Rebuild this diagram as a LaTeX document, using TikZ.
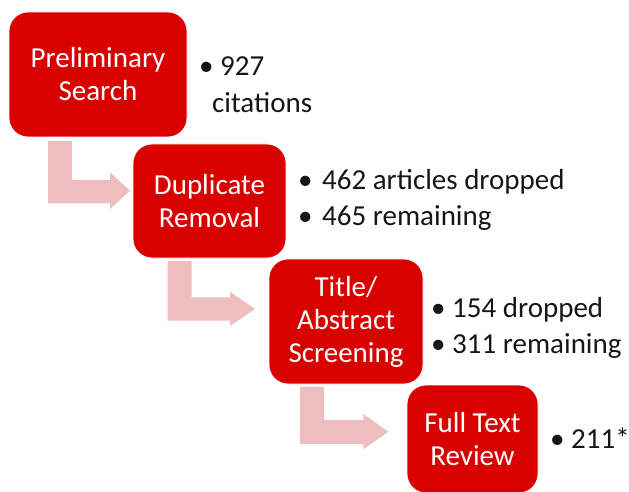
\documentclass[tikz,border=0pt]{standalone}
\usepackage{fontspec}
\setmainfont{Carlito}
\definecolor{boxred}{RGB}{217,0,0}
\definecolor{arrowpink}{RGB}{238,190,190}
\definecolor{txt}{RGB}{22,22,22}
\begin{document}
\begin{tikzpicture}[x=1pt,y=-1pt,
  stage/.style={fill=boxred,draw=white,line width=0.8pt,rounded corners=19pt,
    text=white,align=center,font=\fontsize{29}{33}\selectfont,inner sep=0pt},
  bul/.style={text=txt,anchor=base west,font=\fontsize{29}{36}\selectfont,inner sep=0pt},
  bendarrow/.style={fill=arrowpink,draw=none}]
\useasboundingbox (0,0) rectangle (629,492);
% bent arrows
\fill[bendarrow] (48,141) -- (72,141) -- (72,180) -- (110,180) -- (110,172.3) -- (130,190.7)
  -- (110,209) -- (110,203.3) -- (48,203.3) -- cycle;
\fill[bendarrow] (167.7,261) -- (191.7,261) -- (191.7,297.3) -- (230,297.3) -- (230,291.7) -- (255,309)
  -- (230,326) -- (230,320.7) -- (167.7,320.7) -- cycle;
\fill[bendarrow] (300,386.7) -- (324,386.7) -- (324,420) -- (363.3,420) -- (363.3,414) -- (388.3,431.7)
  -- (363.3,449.3) -- (363.3,444) -- (300,444) -- cycle;
% stages
\node[stage,minimum width=178pt,minimum height=125pt] (prelim) at (98,74.5) {Preliminary\\Search};
\node[stage,minimum width=153pt,minimum height=114pt] (dup) at (209.5,201) {Duplicate\\Removal};
\node[stage,minimum width=154pt,minimum height=125pt] (title) at (346,321.5) {Title/\\Abstract\\Screening};
\node[stage,minimum width=131pt,minimum height=108pt] (full) at (472.5,439) {Full Text\\Review};
% bullets
\node[bul] (b1a) at (199,76) {\makebox[21pt][l]{•}927};
\node[bul] (b1b) at (212,113) {citations};
\node[bul] (b2a) at (298,189) {\makebox[24pt][l]{•}462 articles dropped};
\node[bul] (b2b) at (298,225) {\makebox[24pt][l]{•}465 remaining};
\node[bul] (b3a) at (431,317) {\makebox[21pt][l]{•}154 dropped};
\node[bul] (b3b) at (431,353) {\makebox[21pt][l]{•}311 remaining};
\node[bul] (b4a) at (550,448) {\makebox[21pt][l]{•}211*};
\end{tikzpicture}
\end{document}
